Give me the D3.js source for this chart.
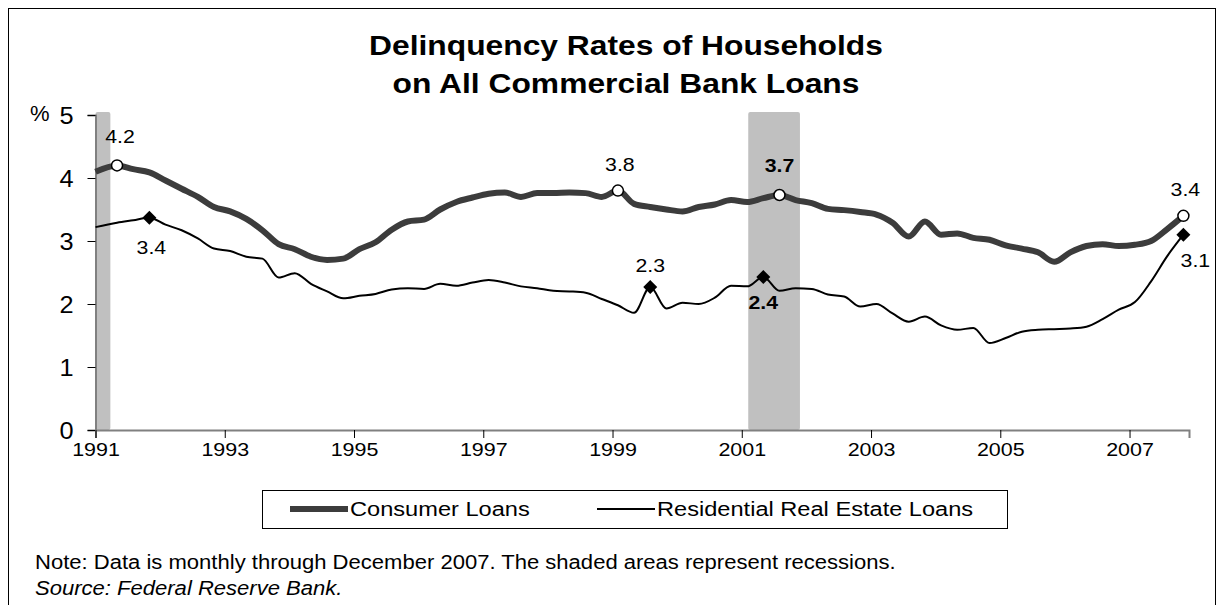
<!DOCTYPE html>
<html>
<head>
<meta charset="utf-8">
<script src="https://cdn.jsdelivr.net/npm/d3@7/dist/d3.min.js"></script>
<style>
  body { margin: 0; background: #fff; }
  svg text { font-family: "Liberation Sans", Arial, sans-serif; fill: #000; }
</style>
</head>
<body>
<svg id="chart" width="1224" height="605"></svg>
<script>
// Quarterly readings, mid-quarter (first point at start of 1991)
const quarterDates = d3.range(68).map(i => (i === 0 ? 1991 : 1991 + 1 / 12 + i / 4));

const consumer = [
  4.10, 4.20, 4.14, 4.09, 3.96, 3.83, 3.70, 3.54, 3.47, 3.35, 3.17, 2.95,
  2.87, 2.75, 2.70, 2.72, 2.87, 2.98, 3.18, 3.31, 3.34, 3.50, 3.62, 3.69,
  3.75, 3.77, 3.70, 3.76, 3.76, 3.77, 3.76, 3.70, 3.80, 3.59, 3.54, 3.50,
  3.47, 3.54, 3.58, 3.65, 3.62, 3.68, 3.73, 3.65, 3.60, 3.51, 3.49, 3.46,
  3.42, 3.29, 3.07, 3.31, 3.10, 3.12, 3.05, 3.02, 2.93, 2.88, 2.82, 2.67,
  2.82, 2.92, 2.95, 2.92, 2.94, 3.00, 3.19, 3.40
];

const residential = [
  3.22, 3.29, 3.33, 3.37, 3.26, 3.17, 3.04, 2.88, 2.84, 2.75, 2.72, 2.42,
  2.49, 2.32, 2.20, 2.09, 2.13, 2.16, 2.23, 2.25, 2.24, 2.32, 2.29, 2.34,
  2.38, 2.34, 2.28, 2.25, 2.21, 2.20, 2.18, 2.08, 1.98, 1.86, 2.27, 1.93,
  2.02, 2.00, 2.10, 2.29, 2.28, 2.43, 2.21, 2.25, 2.24, 2.15, 2.12, 1.96,
  2.00, 1.85, 1.72, 1.80, 1.66, 1.59, 1.62, 1.38, 1.46, 1.56, 1.59, 1.60,
  1.61, 1.64, 1.76, 1.91, 2.03, 2.36, 2.76, 3.10
];

// Recessions (fractional years)
const recessionStart = [1991.0, 2001.1];
const recessionEnd = [1991.23, 2001.9];

// Labelled points: index into the quarterly series
const consumerMarks = [1, 32, 42, 67];
const consumerMarkLabels = ["4.2", "3.8", "3.7", "3.4"];
const residentialMarks = [3, 34, 41, 67];
const residentialMarkLabels = ["3.4", "2.3", "2.4", "3.1"];

const xTicks = [1991, 1993, 1995, 1997, 1999, 2001, 2003, 2005, 2007];
const yTicks = [0, 1, 2, 3, 4, 5];

const seriesNames = ["Consumer Loans", "Residential Real Estate Loans"];

const svg = d3.select("#chart");

// Text in the original is drawn a little wider than Arial
function widen(sel, k) {
  sel.each(function () {
    const w = this.getComputedTextLength();
    d3.select(this).attr("textLength", w * k).attr("lengthAdjust", "spacingAndGlyphs");
  });
}

// Outer frame
svg.append("rect")
  .attr("x", 8.5).attr("y", 8.5)
  .attr("width", 1207).attr("height", 620)
  .attr("fill", "none").attr("stroke", "#000").attr("stroke-width", 1);

const x = d3.scaleLinear().domain([1991, 2007.92]).range([95.5, 1189]);
const y = d3.scaleLinear().domain([0, 5]).range([430, 115]);

// Title
const title = svg.append("g")
  .style("font-size", "28px").style("font-weight", "bold");
title.append("text").attr("x", 626).attr("y", 55).attr("text-anchor", "middle")
  .text("Delinquency Rates of Households");
title.append("text").attr("x", 626).attr("y", 93).attr("text-anchor", "middle")
  .text("on All Commercial Bank Loans");
widen(title.selectAll("text"), 1.135);

// Recession shading
svg.append("g").selectAll("rect")
  .data(recessionStart)
  .join("rect")
  .attr("x", d => x(d))
  .attr("y", y(5) - 3)
  .attr("width", (d, i) => x(recessionEnd[i]) - x(d))
  .attr("height", y(0) - y(5) + 3)
  .attr("rx", 2)
  .attr("fill", "#c0c0c0");

// Axes
const yAxis = svg.append("g")
  .attr("transform", "translate(" + x(1991) + ",0)")
  .call(d3.axisLeft(y).tickValues(yTicks).tickSize(8).tickPadding(14).tickFormat(d3.format("d")));
yAxis.selectAll("text").style("font-size", "23px").attr("dy", "0.36em");
widen(yAxis.selectAll("text"), 1.1);

const xAxis = svg.append("g")
  .attr("transform", "translate(0," + y(0) + ")")
  .call(d3.axisBottom(x).tickValues(xTicks).tickSize(8).tickPadding(5).tickFormat(d3.format("d")));
xAxis.selectAll("text").style("font-size", "19px");
widen(xAxis.selectAll("text"), 1.13);

[yAxis, xAxis].forEach(a => {
  a.select(".domain").attr("stroke", "#808080").attr("stroke-width", 2);
  a.selectAll(".tick line").attr("stroke", "#000").attr("stroke-width", 1);
});

const pct = svg.append("text")
  .attr("x", 30).attr("y", y(5) + 6)
  .style("font-size", "22px")
  .text("%");

// Lines
const line = d3.line()
  .x((d, i) => x(quarterDates[i]))
  .y(d => y(d))
  .curve(d3.curveMonotoneX);

svg.append("path")
  .datum(consumer)
  .attr("d", line)
  .attr("fill", "none")
  .attr("stroke", "#3c3c3c")
  .attr("stroke-width", 6)
  .attr("stroke-linejoin", "round");

svg.append("path")
  .datum(residential)
  .attr("d", line)
  .attr("fill", "none")
  .attr("stroke", "#000")
  .attr("stroke-width", 2)
  .attr("stroke-linejoin", "round");

// Consumer markers (open circles)
svg.append("g").selectAll("circle")
  .data(consumerMarks)
  .join("circle")
  .attr("cx", d => x(quarterDates[d]))
  .attr("cy", d => y(consumer[d]))
  .attr("r", 5.5)
  .attr("fill", "#fff")
  .attr("stroke", "#000")
  .attr("stroke-width", 1.5);

// Residential markers (diamonds)
svg.append("g").selectAll("path")
  .data(residentialMarks)
  .join("path")
  .attr("transform", d => "translate(" + x(quarterDates[d]) + "," + y(residential[d]) + ")")
  .attr("d", "M0,-7L7,0L0,7L-7,0Z")
  .attr("fill", "#000");

// Point labels
const consumerLabelOffset = [[3, -22], [2, -20], [0, -23], [2, -20]];
const residentialLabelOffset = [[2, 36], [0, -15], [0, 32], [12, 32]];
const boldLabel = ["3.7", "2.4"];

const cLabels = svg.append("g").selectAll("text")
  .data(consumerMarks)
  .join("text")
  .attr("x", (d, i) => x(quarterDates[d]) + consumerLabelOffset[i][0])
  .attr("y", (d, i) => y(consumer[d]) + consumerLabelOffset[i][1])
  .attr("text-anchor", "middle")
  .style("font-size", "19px")
  .style("font-weight", (d, i) => boldLabel.includes(consumerMarkLabels[i]) ? "bold" : "normal")
  .text((d, i) => consumerMarkLabels[i]);
widen(cLabels, 1.12);

const rLabels = svg.append("g").selectAll("text")
  .data(residentialMarks)
  .join("text")
  .attr("x", (d, i) => x(quarterDates[d]) + residentialLabelOffset[i][0])
  .attr("y", (d, i) => y(residential[d]) + residentialLabelOffset[i][1])
  .attr("text-anchor", "middle")
  .style("font-size", "19px")
  .style("font-weight", (d, i) => boldLabel.includes(residentialMarkLabels[i]) ? "bold" : "normal")
  .text((d, i) => residentialMarkLabels[i]);
widen(rLabels, 1.12);

// Legend
const legend = svg.append("g");
legend.append("rect")
  .attr("x", 262.5).attr("y", 490.5)
  .attr("width", 745).attr("height", 38)
  .attr("fill", "#fff").attr("stroke", "#000").attr("stroke-width", 1);

const legendX = [290, 597];
const legendWidth = [6, 2];
const legendColor = ["#3c3c3c", "#000"];
legend.selectAll("line")
  .data(seriesNames)
  .join("line")
  .attr("x1", (d, i) => legendX[i]).attr("x2", (d, i) => legendX[i] + 58)
  .attr("y1", 509).attr("y2", 509)
  .attr("stroke", (d, i) => legendColor[i])
  .attr("stroke-width", (d, i) => legendWidth[i]);
const legendText = legend.selectAll("text")
  .data(seriesNames)
  .join("text")
  .attr("x", (d, i) => legendX[i] + 60)
  .attr("y", 516)
  .style("font-size", "20px")
  .text(d => d);
widen(legendText, 1.18);

// Notes
const note = svg.append("text")
  .attr("x", 35).attr("y", 569)
  .style("font-size", "19.5px")
  .text("Note: Data is monthly through December 2007. The shaded areas represent recessions.");
widen(note, 1.13);
const source = svg.append("text")
  .attr("x", 35).attr("y", 595)
  .style("font-size", "19.5px")
  .style("font-style", "italic")
  .text("Source: Federal Reserve Bank.");
widen(source, 1.13);
</script>
</body>
</html>
